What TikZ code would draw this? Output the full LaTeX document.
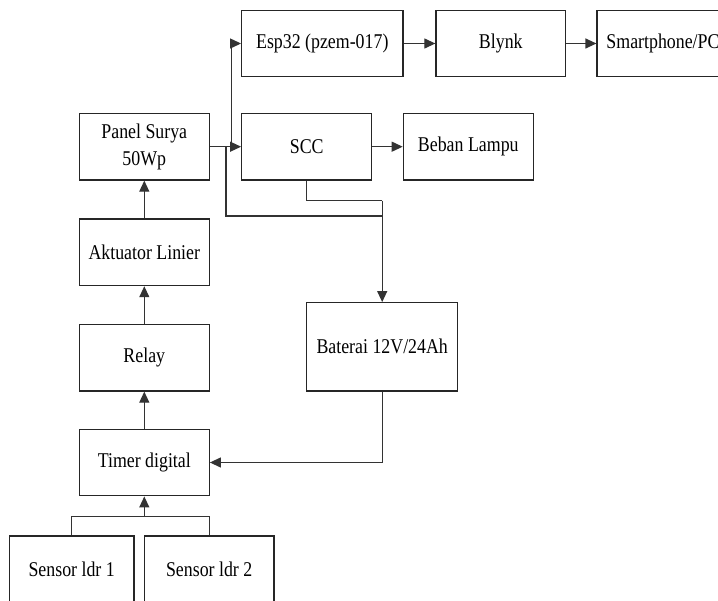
\documentclass[tikz,border=0pt]{standalone}
\usepackage{fontspec}
\setmainfont{Liberation Serif}[FakeStretch=0.85]
\usetikzlibrary{arrows.meta}
\begin{document}
\begin{tikzpicture}[x=1pt,y=-1pt,
  box/.style={draw=black!85, line width=1.2pt, minimum height=66.7pt, inner sep=0pt,
    font=\fontsize{21}{26.7}\selectfont, align=center, text=black},
  conn/.style={draw=black!80, line width=1.2pt},
  arr/.style={conn, -{Triangle[length=11pt,width=10pt]}}]
\useasboundingbox (0,0) rectangle (718,601);
\clip (0,0) rectangle (718,601);
\node[box, minimum width=161.3pt] (esp) at (322.3,43.5) {Esp32 (pzem-017)};
\node[box, minimum width=129.7pt] (blynk) at (500.8,43.5) {Blynk};
\node[box, minimum width=132pt] (smart) at (663,43.5) {Smartphone/PC};
\node[box, minimum width=130pt] (panel) at (144.3,146.7) {Panel Surya\\50Wp};
\node[box, minimum width=130pt] (scc) at (306.7,146.7) {SCC};
\node[box, minimum width=130pt] (beban) at (468.3,146.7) {Beban Lampu};
\node[box, minimum width=130pt] (akt) at (144.3,252.3) {Aktuator Linier};
\node[box, minimum width=130pt] (relay) at (144.3,357.7) {Relay};
\node[box, minimum width=130pt] (timer) at (144.3,462.5) {Timer digital};
\node[box, minimum width=151pt, minimum height=88.3pt] (bat) at (382.2,346.8) {Baterai 12V/24Ah};
\node[box, minimum width=124.7pt, minimum height=67pt] (ldr1) at (71.7,569.5) {Sensor ldr 1};
\node[box, minimum width=129.7pt, minimum height=67pt] (ldr2) at (209.2,569.5) {Sensor ldr 2};
% coordinates
\coordinate (pd) at (226,146.7);
\coordinate (pu) at (231.7,146.7);
\coordinate (sj) at (144.3,516.7);
% connectors
\draw[arr] (panel.east) -- (scc.west);
\draw[arr] (pu) -- (pu |- esp.west) -- (esp.west);
\draw[arr] (esp) -- (blynk);
\draw[arr] (blynk) -- (smart);
\draw[arr] (scc) -- (beban);
\draw[conn] (pd) -- (226,216) -- (bat.north |- 0,216);
\draw[conn] (scc.south) -- (306.7,200.7) -- (bat.north |- 0,200.7);
\draw[arr] (bat.north |- 0,200.7) -- (bat.north);
\draw[arr] (akt) -- (panel);
\draw[arr] (relay) -- (akt);
\draw[arr] (timer) -- (relay);
\draw[arr] (bat.south) -- (bat.south |- timer.east) -- (timer.east);
\draw[conn] (ldr1.north) -- (ldr1.north |- sj) -- (ldr2.north |- sj) -- (ldr2.north);
\draw[arr] (sj) -- (timer.south);
\end{tikzpicture}
\end{document}
